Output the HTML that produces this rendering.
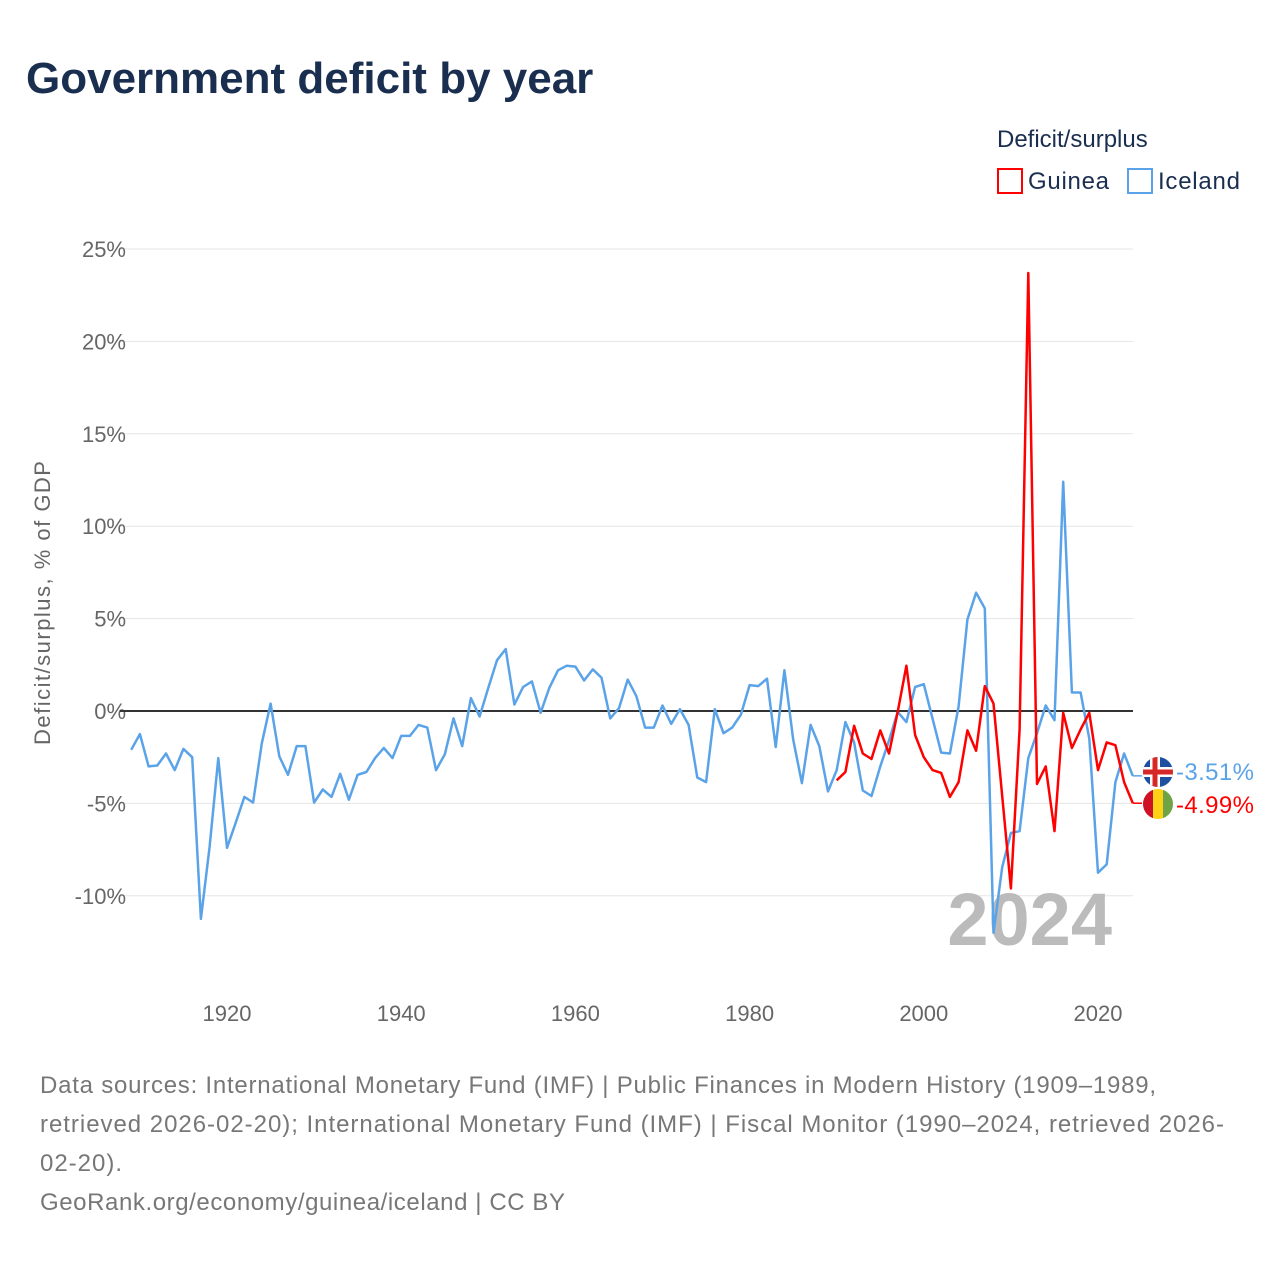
<!DOCTYPE html>
<html><head><meta charset="utf-8"><style>
body{margin:0;background:#fff;font-family:"Liberation Sans",sans-serif;}
svg text{font-family:"Liberation Sans",sans-serif;}
</style></head><body>
<svg width="1280" height="1280" xmlns="http://www.w3.org/2000/svg">
<rect width="1280" height="1280" fill="#fff"/>
<text x="26" y="93" font-size="44" font-weight="bold" fill="#1a2e4f">Government deficit by year</text>
<text x="997" y="147" font-size="24" fill="#1a2e4f">Deficit/surplus</text>
<g><rect x="998" y="169" width="24" height="24" fill="none" stroke="#ff0000" stroke-width="2"/><text x="1028" y="189" font-size="24" fill="#1a2e4f" textLength="81">Guinea</text></g>
<g><rect x="1128" y="169" width="24" height="24" fill="none" stroke="#5ba3e8" stroke-width="2"/><text x="1158" y="189" font-size="24" fill="#1a2e4f" textLength="82">Iceland</text></g>
<text transform="translate(50,603) rotate(-90)" text-anchor="middle" font-size="22" fill="#666" textLength="284">Deficit/surplus, % of GDP</text>
<g id="grid"></g><g id="xt"></g>
<text x="1112" y="945" text-anchor="end" font-size="74" font-weight="bold" fill="#bbb">2024</text>
<g id="series"></g>
<g>
<clipPath id="c1"><circle cx="1158" cy="772" r="15"/></clipPath>
<g clip-path="url(#c1)"><rect x="1140" y="755" width="40" height="34" fill="#1e50a0"/><rect x="1140" y="767" width="40" height="10" fill="#fff"/><rect x="1150" y="755" width="10" height="34" fill="#fff"/><rect x="1140" y="769.5" width="40" height="5" fill="#d72828"/><rect x="1152.5" y="755" width="5" height="34" fill="#d72828"/></g>
<text x="1176" y="780" font-size="24" fill="#5ba3e8" textLength="78">-3.51%</text></g>
<g>
<clipPath id="c2"><circle cx="1158" cy="804" r="15"/></clipPath>
<g clip-path="url(#c2)"><rect x="1140" y="787" width="13" height="34" fill="#ce1126"/><rect x="1153" y="787" width="10" height="34" fill="#fcd116"/><rect x="1163" y="787" width="15" height="34" fill="#6fa446"/></g>
<text x="1176" y="813" font-size="24" fill="#ff0000" textLength="78">-4.99%</text></g>
<g font-size="24" fill="#777">
<text x="40" y="1093" textLength="1116">Data sources: International Monetary Fund (IMF) | Public Finances in Modern History (1909–1989,</text>
<text x="40" y="1132" textLength="1184">retrieved 2026-02-20); International Monetary Fund (IMF) | Fiscal Monitor (1990–2024, retrieved 2026-</text>
<text x="40" y="1171" textLength="82">02-20).</text>
<text x="40" y="1210" textLength="525">GeoRank.org/economy/guinea/iceland | CC BY</text>
</g>
</svg>
<script>
const yTicks=[-10,-5,0,5,10,15,20,25];
const yTickLabels=["-10%","-5%","0%","5%","10%","15%","20%","25%"];
const xTicks=[1920,1940,1960,1980,2000,2020];
const icelandStart=1909;
const icelandValues=[-2.1,-1.25,-3.0,-2.95,-2.3,-3.2,-2.05,-2.5,-11.25,-7.35,-2.55,-7.4,-6.05,-4.65,-4.95,-1.75,0.4,-2.45,-3.45,-1.9,-1.9,-4.95,-4.25,-4.65,-3.4,-4.8,-3.45,-3.3,-2.55,-2.0,-2.55,-1.35,-1.35,-0.75,-0.9,-3.2,-2.35,-0.4,-1.9,0.7,-0.3,1.25,2.75,3.35,0.35,1.3,1.6,-0.1,1.25,2.2,2.45,2.4,1.65,2.25,1.8,-0.4,0.15,1.7,0.8,-0.9,-0.9,0.3,-0.7,0.1,-0.75,-3.6,-3.85,0.1,-1.2,-0.9,-0.2,1.4,1.35,1.75,-1.95,2.2,-1.55,-3.9,-0.75,-1.9,-4.35,-3.2,-0.6,-1.7,-4.3,-4.6,-3.0,-1.6,-0.05,-0.6,1.3,1.45,-0.4,-2.25,-2.3,0.25,4.95,6.4,5.55,-12.0,-8.45,-6.6,-6.5,-2.55,-1.2,0.3,-0.5,12.4,1.0,1.0,-1.5,-8.75,-8.3,-3.85,-2.3,-3.51];
const guineaStart=1990;
const guineaValues=[-3.75,-3.3,-0.8,-2.3,-2.6,-1.05,-2.3,-0.05,2.45,-1.3,-2.5,-3.2,-3.35,-4.65,-3.85,-1.05,-2.15,1.35,0.4,-4.6,-9.6,-1.0,23.7,-3.95,-3.0,-6.5,-0.1,-2.0,-1.0,-0.1,-3.2,-1.7,-1.85,-3.85,-4.99];
const X=yr=>227+(yr-1920)*8.71;
const Y=v=>711-v*18.48;
const NS="http://www.w3.org/2000/svg";
function mk(tag,attrs,parent){const e=document.createElementNS(NS,tag);for(const k in attrs)e.setAttribute(k,attrs[k]);parent.appendChild(e);return e;}
const grid=document.getElementById('grid');
yTicks.forEach((t,i)=>{
  if(t!==0){const l=mk('line',{x1:120,x2:1133,y1:Y(t),y2:Y(t),stroke:'#e6e6e6','stroke-width':1},grid);
  
  }
  const tx=mk('text',{x:126,y:Y(t)+8,'text-anchor':'end','font-size':22,fill:'#666'},grid);
  tx.textContent=yTickLabels[i];
  
  
});
const xt=document.getElementById('xt');
xTicks.forEach(t=>{const tx=mk('text',{x:X(t),y:1021,'text-anchor':'middle','font-size':22,fill:'#666'},xt);
  tx.textContent=t;
  
  });
const s=document.getElementById('series');
const zl=mk('line',{x1:120,x2:1133,y1:Y(0),y2:Y(0),stroke:'#333','stroke-width':2},s);


function line(start,vals,color,name){
  const d=vals.map((v,i)=>(i?'L':'M')+X(start+i).toFixed(1)+','+Y(v).toFixed(1)).join('');
  const p=mk('path',{d:d,fill:'none',stroke:color,'stroke-width':2.5,'stroke-linejoin':'round'},s);
  
  
  const last=vals[vals.length-1];
  const c=mk('line',{x1:X(start+vals.length-1),x2:1142,y1:Y(last),y2:Y(last),stroke:color,'stroke-width':1.5},s);
  
  
}
line(icelandStart,icelandValues,'#5ba3e8','iceland-line');
line(guineaStart,guineaValues,'#ff0000','guinea-line');
</script>
</body></html>
